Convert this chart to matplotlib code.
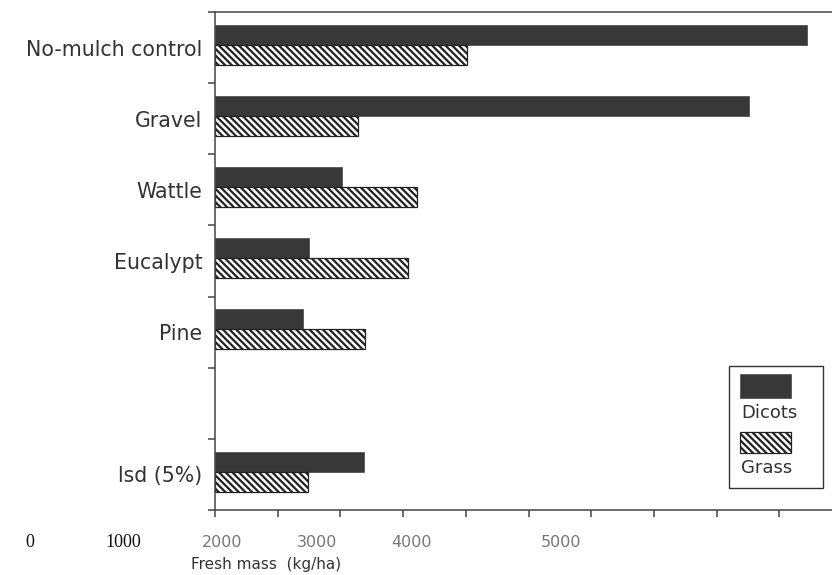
import matplotlib
matplotlib.use('Agg')
import matplotlib.pyplot as plt
from matplotlib.patches import Rectangle
import numpy as np

# fresh mass of weeds under each mulch treatment (kg/ha)
categories = ["No-mulch control", "Gravel", "Wattle", "Eucalypt", "Pine", "lsd (5%)"]
dicots = [4720, 4260, 1010, 750, 700, 1190]
grass = [2010, 1140, 1610, 1540, 1200, 740]

# axis labels as printed on the page
tick_text = ["2000", "3000", "4000", "5000"]
tick_at = [60, 810, 1570, 2760]
stray_text = ["0", "1000"]
stray_at = [-1480, -730]

HATCH = '\\' * 5
plt.rcParams['hatch.linewidth'] = 1.6
plt.rcParams['font.family'] = 'DejaVu Sans'

W, H = 832, 575
fig = plt.figure(figsize=(W / 100, H / 100), dpi=100)
ax = fig.add_axes([215 / W, 1 - 510 / H, 1 - 215 / W, (510 - 12) / H])

# one slot per row, with an empty row before the lsd bars
slots = np.array([0, 1, 2, 3, 4, 6]) + 0.5
bh = 0.28
off = -0.04

ax.barh(slots + off - bh / 2, dicots, height=bh, color='#383838',
        edgecolor='#555555', linewidth=0.6)
ax.barh(slots + off + bh / 2, grass, height=bh, color='white',
        edgecolor='#222222', hatch=HATCH, linewidth=0.9)

ax.set_ylim(7, 0)
ax.set_xlim(0, 4920)

# tick marks every 500 on x, row boundaries on y
ax.set_xticks(np.arange(0, 4921, 500))
ax.set_xticklabels([])
ax.set_yticks(np.arange(0, 8))
ax.set_yticklabels([])
ax.set_yticks(slots, minor=True)
ax.set_yticklabels(categories, minor=True, fontsize=14.8, color='#333333')
ax.tick_params(axis='y', which='minor', length=0, pad=9)
ax.tick_params(which='major', direction='out', length=5, width=1.1,
               color='#444444')

for s in ['left', 'bottom', 'top']:
    ax.spines[s].set_color('#444444')
    ax.spines[s].set_linewidth(1.1)
ax.spines['right'].set_visible(False)

trans = ax.get_xaxis_transform()
for lab, x in zip(tick_text, tick_at):
    ax.text(x, -0.065, lab, transform=trans, ha='center', va='center',
            fontsize=11.5, color='#777777', clip_on=False)
for lab, x in zip(stray_text, stray_at):
    ax.text(x, -0.065, lab, transform=trans, ha='center', va='center',
            fontsize=13, family='Liberation Serif', color='#111111',
            clip_on=False)

fig.text(266 / W, 1 - 565 / H, "Fresh mass  (kg/ha)", ha='center',
         va='center', fontsize=11, color='#333333')

# legend drawn by hand: swatch above its label
def fx(x):
    return x / W

def fy(y):
    return 1 - y / H

fig.add_artist(Rectangle((fx(729), fy(488)), fx(823) - fx(729), fy(366) - fy(488),
                         transform=fig.transFigure, facecolor='white',
                         edgecolor='#333333', linewidth=1.0))
fig.add_artist(Rectangle((fx(740), fy(398)), fx(791) - fx(740), fy(374) - fy(398),
                         transform=fig.transFigure, facecolor='#383838',
                         edgecolor='#555555', linewidth=0.6))
fig.add_artist(Rectangle((fx(740), fy(453)), fx(791) - fx(740), fy(432) - fy(453),
                         transform=fig.transFigure, facecolor='white',
                         edgecolor='#222222', hatch=HATCH, linewidth=0.9))
fig.text(fx(741), fy(413), "Dicots", ha='left', va='center', fontsize=13,
         color='#333333')
fig.text(fx(741), fy(468), "Grass", ha='left', va='center', fontsize=13,
         color='#333333')

fig.savefig("out.png", dpi=100)
